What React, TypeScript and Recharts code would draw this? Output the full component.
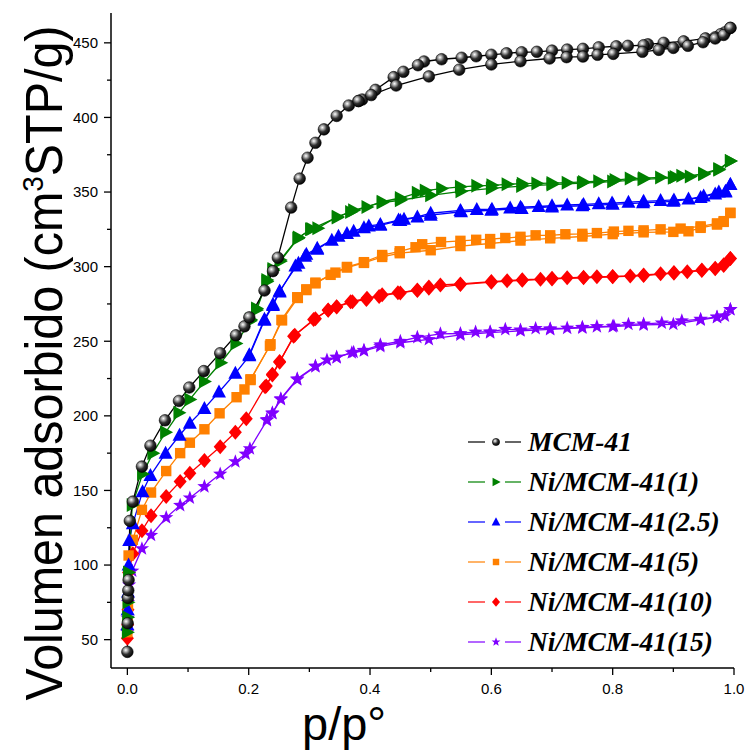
import React from 'react';
import { LineChart, Line, XAxis, YAxis, Legend } from 'recharts';

type Pt = [number, number];

// p/p° , volume (cm3 STP/g) — adsorption and desorption branches
const MCM41_ADS: Pt[] = [
  [0, 41.8], [0.0005, 61], [0.001, 78], [0.0015, 83], [0.002, 90], [0.004, 129.6], [0.009, 142.5],
  [0.024, 166], [0.038, 180], [0.062, 197], [0.085, 210], [0.102, 219], [0.126, 230], [0.153, 242],
  [0.179, 254], [0.193, 260], [0.201, 266], [0.226, 284], [0.24, 297], [0.248, 306], [0.27, 339.6],
  [0.284, 359], [0.297, 373], [0.31, 383], [0.324, 392], [0.345, 401], [0.365, 408], [0.381, 411],
  [0.402, 415], [0.443, 421.4], [0.497, 427.5], [0.547, 432], [0.6, 435.5], [0.648, 437.7],
  [0.696, 439.5], [0.724, 440.4], [0.751, 440.8], [0.775, 442], [0.801, 442.6], [0.849, 444],
  [0.876, 445.3], [0.9, 446.6], [0.924, 448], [0.949, 450.4], [0.969, 452.9], [0.983, 455.3], [0.994, 460],
];
const MCM41_DES: Pt[] = [
  [0.994, 460], [0.985, 457], [0.978, 455.8], [0.969, 453.7], [0.953, 453], [0.917, 451], [0.884, 450],
  [0.858, 449], [0.851, 448.4], [0.825, 448], [0.806, 447.7], [0.777, 447], [0.751, 446], [0.725, 445.5],
  [0.7, 444.8], [0.675, 444], [0.65, 443.7], [0.625, 443], [0.6, 442], [0.575, 441], [0.551, 440],
  [0.518, 439], [0.489, 437.5], [0.479, 435], [0.455, 430.6], [0.439, 427], [0.409, 418.5], [0.387, 412],
  [0.381, 411],
];

const NI1_ADS: Pt[] = [
  [0, 55], [0.0005, 65], [0.001, 75], [0.002, 95], [0.008, 140.3], [0.025, 161], [0.042, 175], [0.063, 189],
  [0.085, 202], [0.103, 211], [0.127, 223], [0.154, 235.6], [0.179, 248.5], [0.203, 263.7], [0.213, 271],
  [0.23, 290], [0.24, 297.6], [0.252, 303.6], [0.281, 318.8], [0.302, 325], [0.346, 333], [0.373, 337.8],
  [0.42, 343], [0.45, 344.5], [0.5, 347.8], [0.55, 350.5], [0.6, 352.5], [0.65, 354], [0.7, 355], [0.75, 356],
  [0.8, 357], [0.85, 358.5], [0.9, 359.5], [0.95, 362], [0.975, 365], [0.994, 370.8],
];
const NI1_DES: Pt[] = [
  [0.994, 370.8], [0.975, 365.5], [0.95, 362.5], [0.928, 360.5], [0.914, 361], [0.903, 360], [0.879, 359.8],
  [0.851, 359.3], [0.829, 359], [0.804, 358], [0.777, 357.3], [0.752, 356.8], [0.725, 356.3], [0.7, 356],
  [0.675, 355.8], [0.651, 355.6], [0.626, 355.2], [0.601, 354.5], [0.576, 354.2], [0.549, 353.5], [0.518, 352.3],
  [0.491, 351], [0.478, 349.5], [0.45, 346], [0.42, 343.5], [0.395, 340], [0.368, 336.6], [0.346, 333.5],
  [0.314, 325.8], [0.304, 325.3], [0.282, 319.5], [0.252, 304.5], [0.24, 298.5], [0.23, 291], [0.213, 272],
  [0.203, 264.5],
];

const NI25_ADS: Pt[] = [
  [0, 60], [0.0005, 70], [0.001, 82], [0.002, 100], [0.003, 116.4], [0.009, 127.6], [0.025, 149.2],
  [0.038, 160], [0.063, 175], [0.086, 187], [0.103, 195], [0.127, 205], [0.151, 216], [0.178, 228.5],
  [0.201, 240.2], [0.226, 264], [0.24, 274], [0.251, 283], [0.277, 300.5], [0.293, 307], [0.313, 311.7],
  [0.337, 317.7], [0.362, 322.2], [0.39, 326], [0.417, 327.7], [0.45, 331], [0.5, 334.5], [0.55, 336.8],
  [0.6, 337.8], [0.65, 339], [0.7, 340], [0.75, 340.8], [0.8, 341.8], [0.85, 342.8], [0.9, 343.8],
  [0.945, 346.3], [0.969, 348.7], [0.986, 350], [0.994, 355],
];
const NI25_DES: Pt[] = [
  [0.994, 355], [0.986, 350.5], [0.975, 350], [0.95, 347.3], [0.925, 345.3], [0.901, 344.7], [0.879, 344.3],
  [0.851, 343.8], [0.826, 343.2], [0.799, 342.6], [0.777, 342.2], [0.752, 341.7], [0.725, 341.3], [0.7, 340.8],
  [0.678, 340.3], [0.648, 339.8], [0.631, 339.3], [0.601, 338.5], [0.576, 338.3], [0.549, 337.7], [0.5, 335.8],
  [0.478, 333.3], [0.456, 331.8], [0.447, 331.2], [0.417, 328.3], [0.398, 327.3], [0.373, 323.8], [0.348, 320.4],
  [0.313, 312.3], [0.295, 308.3], [0.282, 302.3], [0.251, 283.7], [0.24, 274.8], [0.226, 264.8], [0.201, 241],
];

const NI5_ADS: Pt[] = [
  [0, 55], [0.0005, 62], [0.001, 72], [0.002, 106.4], [0.009, 116.9], [0.024, 137], [0.039, 148.6],
  [0.064, 163], [0.087, 175], [0.103, 182], [0.127, 191], [0.152, 201.7], [0.18, 212.5], [0.193, 217.7],
  [0.203, 224], [0.236, 248], [0.255, 264], [0.281, 279], [0.295, 284.3], [0.31, 288.8], [0.335, 294.5],
  [0.362, 299.4], [0.39, 302.5], [0.42, 306.5], [0.449, 309], [0.5, 311], [0.549, 313.8], [0.598, 315.5],
  [0.648, 317.5], [0.697, 319], [0.75, 320.2], [0.8, 321.8], [0.851, 323], [0.9, 323.3], [0.925, 323.7],
  [0.945, 326], [0.972, 328.2], [0.983, 330], [0.994, 336],
];
const NI5_DES: Pt[] = [
  [0.994, 336], [0.983, 330.5], [0.972, 329], [0.945, 327], [0.912, 325.5], [0.879, 325], [0.851, 324.3],
  [0.826, 324], [0.802, 323.5], [0.774, 322.5], [0.75, 322], [0.722, 321.7], [0.697, 321], [0.673, 321],
  [0.648, 320], [0.623, 319.2], [0.598, 318.5], [0.575, 318], [0.549, 317.3], [0.517, 316.5], [0.486, 315],
  [0.475, 313], [0.449, 310.3], [0.42, 307.8], [0.39, 303], [0.362, 299.8], [0.343, 296], [0.31, 289.3],
  [0.295, 284.8], [0.28, 279.5], [0.254, 264.3], [0.235, 247], [0.203, 224.5],
];

const NI10_ADS: Pt[] = [
  [0, 51], [0.0005, 60], [0.001, 70], [0.002, 95], [0.009, 107.5], [0.024, 123], [0.039, 133], [0.064, 146],
  [0.087, 156], [0.103, 161.5], [0.127, 170], [0.153, 179.3], [0.178, 189], [0.196, 198], [0.227, 219.5],
  [0.239, 227.3], [0.251, 236], [0.274, 253.4], [0.307, 264.6], [0.331, 270.8], [0.345, 273], [0.371, 276.4],
  [0.394, 278], [0.415, 280], [0.446, 282.5], [0.478, 284], [0.497, 285.5], [0.549, 288], [0.6, 289.6],
  [0.651, 290.8], [0.7, 291.8], [0.752, 292.5], [0.8, 293.2], [0.851, 294], [0.901, 295.6], [0.947, 297.4],
  [0.969, 298.6], [0.983, 300.8], [0.994, 305.4],
];
const NI10_DES: Pt[] = [
  [0.994, 305.4], [0.983, 301.2], [0.969, 299], [0.947, 297.8], [0.923, 296.6], [0.901, 296], [0.879, 295.2],
  [0.851, 294.4], [0.829, 293.8], [0.8, 293.4], [0.774, 293.2], [0.752, 292.9], [0.725, 292.5], [0.7, 292.2],
  [0.681, 291.6], [0.651, 291.2], [0.626, 290.6], [0.6, 290], [0.549, 288.4], [0.516, 287.7], [0.497, 286.3],
  [0.478, 284.4], [0.45, 282.4], [0.42, 281.2], [0.395, 278.8], [0.368, 276.5], [0.345, 273.2], [0.331, 271],
  [0.31, 265], [0.276, 254], [0.251, 236.5], [0.239, 227.8], [0.229, 220],
];

const NI15_ADS: Pt[] = [
  [0, 55], [0.0005, 64.5], [0.001, 75], [0.003, 86.7], [0.008, 96], [0.024, 111], [0.039, 120], [0.064, 131.8],
  [0.087, 140], [0.103, 145], [0.127, 152.6], [0.153, 161], [0.178, 169.3], [0.195, 174.4], [0.202, 178],
  [0.23, 197], [0.239, 201.6], [0.253, 211], [0.28, 224.3], [0.31, 233], [0.329, 237.5], [0.345, 239],
  [0.37, 242.3], [0.39, 243.6], [0.417, 246.5], [0.45, 249], [0.497, 251.2], [0.549, 254.3], [0.598, 255.8],
  [0.648, 257], [0.697, 258], [0.75, 259], [0.8, 259.8], [0.851, 261], [0.9, 261.4], [0.945, 264.3],
  [0.972, 266], [0.994, 271.3],
];
const NI15_DES: Pt[] = [
  [0.994, 271.3], [0.985, 267], [0.972, 266.3], [0.945, 264.8], [0.914, 263.7], [0.881, 262.3], [0.851, 261.6],
  [0.826, 261.4], [0.802, 260.2], [0.774, 259.8], [0.75, 259.4], [0.725, 258.8], [0.697, 258.4], [0.673, 258.6],
  [0.648, 257.6], [0.623, 258], [0.598, 256.4], [0.574, 256.2], [0.549, 255.2], [0.516, 255], [0.478, 252.6],
  [0.45, 250], [0.417, 247.6], [0.39, 244], [0.373, 242.7], [0.345, 239.4], [0.31, 233.4], [0.28, 224.8],
  [0.253, 211.5], [0.239, 202], [0.23, 197.5],
];

const X_TICKS = [0, 0.1, 0.2, 0.3, 0.4, 0.5, 0.6, 0.7, 0.8, 0.9, 1.0];
const X_LABELED = [0, 0.2, 0.4, 0.6, 0.8, 1.0];
const Y_TICKS = [50, 75, 100, 125, 150, 175, 200, 225, 250, 275, 300, 325, 350, 375, 400, 425, 450];
const Y_LABELED = [50, 100, 150, 200, 250, 300, 350, 400, 450];

type Kind = 'sphere' | 'right' | 'up' | 'square' | 'diamond' | 'star';

const SERIES: { id: string; name: string; color: string; kind: Kind; ads: Pt[]; des: Pt[] }[] = [
  { id: 'mcm', name: 'MCM-41', color: '#000000', kind: 'sphere', ads: MCM41_ADS, des: MCM41_DES },
  { id: 'ni1', name: 'Ni/MCM-41(1)', color: '#008000', kind: 'right', ads: NI1_ADS, des: NI1_DES },
  { id: 'ni25', name: 'Ni/MCM-41(2.5)', color: '#0000ff', kind: 'up', ads: NI25_ADS, des: NI25_DES },
  { id: 'ni5', name: 'Ni/MCM-41(5)', color: '#ff8000', kind: 'square', ads: NI5_ADS, des: NI5_DES },
  { id: 'ni10', name: 'Ni/MCM-41(10)', color: '#ff0000', kind: 'diamond', ads: NI10_ADS, des: NI10_DES },
  { id: 'ni15', name: 'Ni/MCM-41(15)', color: '#8000ff', kind: 'star', ads: NI15_ADS, des: NI15_DES },
];

const toRows = (pts: Pt[]) => pts.map(([p, v]) => ({ p, v }));

const SANS = '"Liberation Sans", Arial, sans-serif';

function starPoints(cx: number, cy: number, R: number, r: number) {
  const pts: string[] = [];
  for (let i = 0; i < 10; i++) {
    const a = -Math.PI / 2 + (i * Math.PI) / 5;
    const rad = i % 2 === 0 ? R : r;
    pts.push(`${cx + rad * Math.cos(a)},${cy + rad * Math.sin(a)}`);
  }
  return pts.join(' ');
}

function Marker({ kind, color, cx, cy, s = 1 }: { kind: Kind; color: string; cx: number; cy: number; s?: number }) {
  if (cx == null || cy == null) return null;
  switch (kind) {
    case 'sphere':
      return <circle cx={cx} cy={cy} r={5.8 * s} fill="url(#sphereGrad)" stroke="#000" strokeWidth={0.6} />;
    case 'right':
      return (
        <polygon
          points={`${cx - 5.5 * s},${cy - 7 * s} ${cx + 7.5 * s},${cy} ${cx - 5.5 * s},${cy + 7 * s}`}
          fill={color}
        />
      );
    case 'up':
      return (
        <polygon
          points={`${cx},${cy - 7.5 * s} ${cx + 7 * s},${cy + 5.5 * s} ${cx - 7 * s},${cy + 5.5 * s}`}
          fill={color}
        />
      );
    case 'square':
      return <rect x={cx - 5.2 * s} y={cy - 5.2 * s} width={10.4 * s} height={10.4 * s} fill={color} />;
    case 'diamond':
      return (
        <polygon
          points={`${cx},${cy - 7.5 * s} ${cx + 6.5 * s},${cy} ${cx},${cy + 7.5 * s} ${cx - 6.5 * s},${cy}`}
          fill={color}
        />
      );
    case 'star':
      return <polygon points={starPoints(cx, cy, 7.5 * s, 3.1 * s)} fill={color} />;
  }
  return null;
}

const YTick = (props: any) => {
  const { x, y, payload } = props;
  const major = Y_LABELED.includes(payload.value);
  return (
    <g>
      <line x1={x} x2={x - (major ? 7 : 4)} y1={y} y2={y} stroke="#000" strokeWidth={1.3} />
      {major && (
        <text x={x - 13} y={y} dy="0.36em" textAnchor="end" fontFamily={SANS} fontSize={15} fill="#000">
          {payload.value}
        </text>
      )}
    </g>
  );
};

const XTick = (props: any) => {
  const { x, y, payload } = props;
  const major = X_LABELED.some((t) => Math.abs(t - payload.value) < 1e-6);
  return (
    <g>
      <line x1={x} x2={x} y1={y} y2={y + (major ? 7 : 4)} stroke="#000" strokeWidth={1.3} />
      {major && (
        <text x={x} y={y + 26} textAnchor="middle" fontFamily={SANS} fontSize={15} fill="#000">
          {payload.value.toFixed(1)}
        </text>
      )}
    </g>
  );
};

const TopTick = (props: any) => {
  const { x, y } = props;
  return <line x1={x} x2={x} y1={y} y2={y + 4} stroke="#000" strokeWidth={1.2} />;
};

const RightTick = (props: any) => {
  const { x, y } = props;
  return <line x1={x} x2={x - 4} y1={y} y2={y} stroke="#000" strokeWidth={1.2} />;
};

const XTitle = () => (
  <text x={302} y={740} fontFamily={SANS} fontSize={47} fill="#000">
    p/p°
  </text>
);

const YTitle = () => (
  <text
    transform="translate(62, 363) rotate(-90)"
    textAnchor="middle"
    fontFamily={SANS}
    fontSize={52}
    fill="#000"
    textLength={675}
    lengthAdjust="spacingAndGlyphs"
  >
    Volumen adsorbido (cm
    <tspan dy={-19} fontSize={30}>3</tspan>
    <tspan dy={19}>STP/g)</tspan>
  </text>
);

const LegendBox = () => (
  <div style={{ display: 'flex', flexDirection: 'column' }}>
    {SERIES.map((s) => (
      <div key={s.id} style={{ height: 40, display: 'flex', alignItems: 'center' }}>
        <svg width={60} height={40} style={{ flex: 'none' }}>
          <line x1={0} x2={17} y1={20} y2={20} stroke={s.color} strokeWidth={1.2} />
          <Marker kind={s.kind} color={s.color} cx={28} cy={20} s={0.62} />
          <line x1={37} x2={53} y1={20} y2={20} stroke={s.color} strokeWidth={1.2} />
        </svg>
        <span
          style={{
            fontFamily: '"Liberation Serif", "Times New Roman", serif',
            fontWeight: 'bold',
            fontStyle: 'italic',
            fontSize: 27.5,
            color: '#000',
            whiteSpace: 'nowrap',
            lineHeight: '40px',
          }}
        >
          {s.name}
        </span>
      </div>
    ))}
  </div>
);

export default function App() {
  const drawOrder = [...SERIES].reverse();
  return (
    <div style={{ position: 'absolute', left: 0, top: 0, width: 747, height: 750, background: '#fff' }}>
      <LineChart width={747} height={750} margin={{ top: 13, right: 13, bottom: 0, left: 0 }}>
        <defs>
          <radialGradient id="sphereGrad" cx="0.36" cy="0.34" r="0.7">
            <stop offset="0" stopColor="#ffffff" />
            <stop offset="0.22" stopColor="#b0b0b0" />
            <stop offset="0.55" stopColor="#303030" />
            <stop offset="1" stopColor="#000000" />
          </radialGradient>
        </defs>
        <XAxis
          xAxisId="b"
          dataKey="p"
          type="number"
          domain={[-0.027, 1.0]}
          ticks={X_TICKS}
          interval={0}
          height={82}
          tickSize={0}
          tickMargin={0}
          tickLine={false}
          tick={<XTick />}
          axisLine={{ stroke: '#000', strokeWidth: 1.5 }}
          label={<XTitle />}
        />
        <XAxis
          xAxisId="t"
          orientation="top"
          dataKey="p"
          type="number"
          domain={[-0.027, 1.0]}
          ticks={X_TICKS}
          interval={0}
          height={0}
          tickSize={0}
          tickMargin={0}
          tickLine={false}
          tick={<TopTick />}
          axisLine={{ stroke: '#000', strokeWidth: 1.5 }}
        />
        <YAxis
          yAxisId="l"
          type="number"
          domain={[31, 470]}
          ticks={Y_TICKS}
          interval={0}
          width={111}
          tickSize={0}
          tickMargin={0}
          tickLine={false}
          tick={<YTick />}
          axisLine={{ stroke: '#000', strokeWidth: 1.5 }}
          label={<YTitle />}
        />
        <YAxis
          yAxisId="r"
          orientation="right"
          type="number"
          domain={[31, 470]}
          ticks={Y_TICKS}
          interval={0}
          width={0}
          tickSize={0}
          tickMargin={0}
          tickLine={false}
          tick={<RightTick />}
          axisLine={{ stroke: '#222', strokeWidth: 2 }}
        />
        {drawOrder.flatMap((s) =>
          (['des', 'ads'] as const).map((br) => (
            <Line
              key={`${s.id}-${br}`}
              xAxisId="b"
              yAxisId="l"
              data={toRows(s[br])}
              dataKey="v"
              type="linear"
              stroke={s.color}
              strokeWidth={1.3}
              isAnimationActive={false}
              activeDot={false}
              legendType="none"
              dot={(p: any) => (
                <Marker key={`${s.id}-${br}-${p.index}`} kind={s.kind} color={s.color} cx={p.cx} cy={p.cy} />
              )}
            />
          ))
        )}
        <Legend
          layout="vertical"
          align="center"
          verticalAlign="middle"
          content={<LegendBox />}
          wrapperStyle={{ left: 468, top: 422, width: 275, height: 240 }}
        />
      </LineChart>
    </div>
  );
}
